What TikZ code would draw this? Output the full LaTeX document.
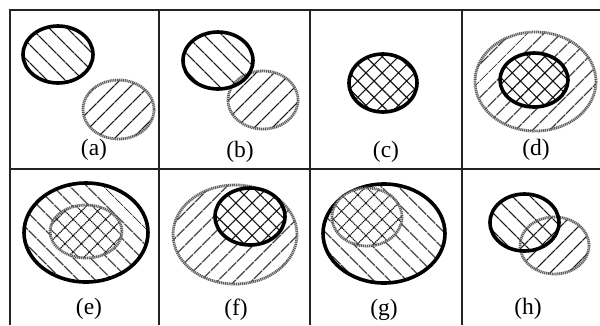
\documentclass[tikz,border=0pt]{standalone}
\usepackage{fontspec}
\setmainfont{Liberation Serif}
\usetikzlibrary{patterns.meta}
\definecolor{GridGray}{RGB}{35,35,35}
\definecolor{RingGray}{RGB}{95,95,95}
\definecolor{HatchGray}{RGB}{20,20,20}

\begin{document}
\begin{tikzpicture}[
	x=1pt,
	y=-1pt,
	every node/.style={
		font=\fontsize{23.5}{26}\selectfont
	},
	gridline/.style={
		draw=GridGray,
		line width=1.8pt
	},
	setA/.style={
		draw=black,
		line width=3.6pt
	},
	setB/.style={
		draw=RingGray,
		line width=2.8pt,
		dash pattern=on 1.2pt off 0.7pt
	},
	fallLines/.style={
		pattern={Lines[angle=-45,distance=13pt,line width=1.2pt]},
		pattern color=HatchGray
	},
	riseLines/.style={
		pattern={Lines[angle=45,distance=13pt,line width=1.2pt]},
		pattern color=HatchGray
	},
	crossLines/.style={
		pattern={Hatch[angle=45,distance=11.5pt,line width=1.1pt]},
		pattern color=HatchGray
	}
	]
	
	\useasboundingbox (0,0) rectangle (600,325);
	\fill[white] (0,0) rectangle (600,325);
	
	% grid
	\draw[gridline] (10,325) -- (10,10) -- (600,10);
	\draw[gridline] (10,169) -- (600,169);
	\draw[gridline] (159,10) -- (159,325);
	\draw[gridline] (310,10) -- (310,325);
	\draw[gridline] (462,10) -- (462,325);
	
	% (a)
	\draw[setA, fallLines] (58,54.5) ellipse [x radius=35, y radius=28.5];
	\draw[setB, riseLines] (118.5,109.5) ellipse [x radius=35.5, y radius=29.5];
	\node (labA) at (94,150) {(a)};
	
	% (b)
	\draw[setB, riseLines] (263,100) ellipse [x radius=35, y radius=29];
	\draw[setA, fallLines] (218,60.5) ellipse [x radius=35, y radius=28.5];
	\node (labB) at (240,152) {(b)};
	
	% (c)
	\draw[setA, crossLines] (383,83) ellipse [x radius=34, y radius=29];
	\node (labC) at (386,152) {(c)};
	
	% (d)
	\draw[setB, riseLines] (535.5,81.5) ellipse [x radius=60.5, y radius=49.5];
	\fill[white] (534,80) ellipse [x radius=34, y radius=27];
	\draw[setA, crossLines] (534,80) ellipse [x radius=34, y radius=27];
	\node (labD) at (536,150) {(d)};
	
	% (e)
	\draw[setA, fallLines] (86,232.5) ellipse [x radius=62, y radius=49.5];
	\fill[white] (86,231.5) ellipse [x radius=36, y radius=26.5];
	\draw[setB, crossLines] (86,231.5) ellipse [x radius=36, y radius=26.5];
	\node (labE) at (89,309) {(e)};
	
	% (f)
	\draw[setB, riseLines] (235,234.5) ellipse [x radius=62, y radius=49.5];
	\fill[white] (250,216.5) ellipse [x radius=35, y radius=28.5];
	\draw[setA, crossLines] (250,216.5) ellipse [x radius=35, y radius=28.5];
	\node (labF) at (236,310) {(f)};
	
	% (g)
	\draw[setA, fallLines] (384,233.5) ellipse [x radius=61, y radius=49.5];
	\fill[white] (367,217) ellipse [x radius=35, y radius=29];
	\draw[setB, crossLines] (367,217) ellipse [x radius=35, y radius=29];
	\node (labG) at (384,310) {(g)};
	
	% (h)
	\path[fallLines] (524.5,222.5) ellipse [x radius=34.5, y radius=28.5];
	\path[riseLines] (554.5,245.5) ellipse [x radius=34.5, y radius=28.5];
	\draw[setB] (554.5,245.5) ellipse [x radius=34.5, y radius=28.5];
	\draw[setA] (524.5,222.5) ellipse [x radius=34.5, y radius=28.5];
	\node (labH) at (528,309) {(h)};
	
\end{tikzpicture}
\end{document}
